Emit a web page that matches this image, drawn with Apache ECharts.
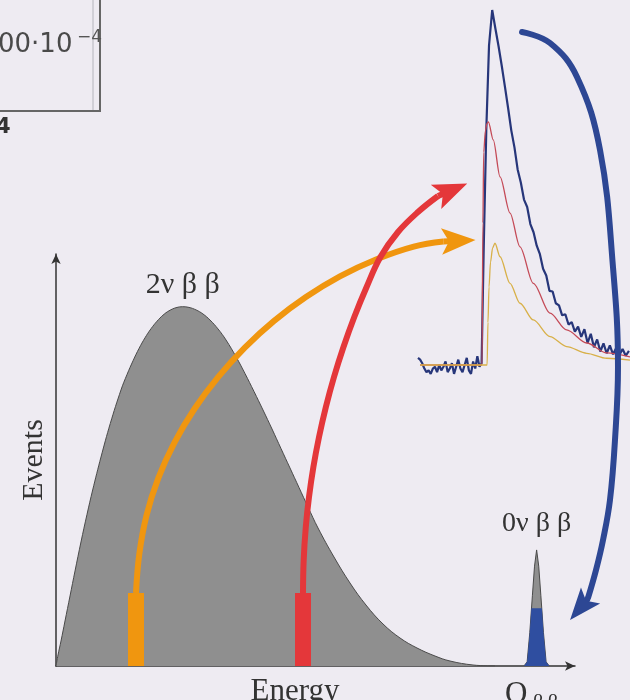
<!DOCTYPE html>
<html><head><meta charset="utf-8">
<script src="https://cdn.jsdelivr.net/npm/echarts@6/dist/echarts.min.js"></script>
<style>html,body{margin:0;padding:0;background:#eeebf2}#c{width:630px;height:700px}</style>
</head><body><div id="c"></div>
<script>
// ---- 2νββ continuum (energy in arbitrary units, events in arbitrary units)
const energy2nu = [0, 0.38, 0.95, 1.71, 2.66, 3.61, 4.74, 5.88, 6.96, 8.54, 10.3, 12.33, 13.47, 14.67, 15.75, 16.89, 18.03, 19.17, 20.3, 21.44, 22.77, 24.04, 25.24, 26.57, 27.89, 29.22, 30.74, 32.26, 34.16, 35.86, 37.57, 39.28, 40.99, 42.69, 44.4, 46.11, 47.82, 49.72, 52.75, 55.79, 58.82, 62.05, 65.28, 68.5, 71.92, 74.76, 79.13, 83.3];
const counts2nu = [0, 2.64, 6.01, 10.82, 16.83, 22.84, 29.81, 36.42, 42.31, 50.24, 58.29, 66.35, 70.05, 73.51, 76.32, 78.89, 81.08, 82.88, 84.33, 85.38, 86.13, 86.37, 86.2, 85.6, 84.62, 83.17, 81.03, 78.37, 74.35, 70.31, 65.99, 61.54, 56.97, 52.28, 47.6, 42.91, 38.22, 33.17, 26.2, 19.95, 14.66, 10.1, 6.73, 4.33, 2.4, 1.2, 0.24, 0];
// ---- 0νββ peak at Qββ
const energy0nu = [88.8, 89.4, 89.9, 90.4, 90.8, 91.2, 91.6, 92.0, 92.5, 93.0, 93.6];
const counts0nu = [0, 1.0, 8, 17, 24, 27.9, 24, 17, 8, 1.0, 0];
const energy0nuSel = [88.8, 89.4, 89.9, 90.2, 92.2, 92.5, 93.0, 93.6];
const counts0nuSel = [0, 1.0, 8, 13.9, 13.9, 8, 1.0, 0];
const qbb = 91.2;
// ---- selected energy windows (bars)
const windowEnergy = [15.18, 46.87];
const windowHeight = [17.55, 17.55];
// ---- arrows (same units as the spectrum)
const orangeArrowX = [15.18, 15.81, 17.17, 19.41, 22.5, 26.32, 30.8, 35.83, 41.38, 47.42, 53.87, 60.72, 67.89, 73.49];
const orangeArrowY = [17.55, 26.95, 36.18, 45.17, 53.75, 61.9, 69.5, 76.54, 82.96, 88.68, 93.65, 97.72, 100.82, 102.04];
const orangeHead = [[73.49, 102.04], [76.38, 102.21]];
const redArrowX = [46.87, 47.0, 47.4, 48.01, 48.84, 49.91, 51.21, 52.75, 54.55, 56.6, 58.94, 61.56, 64.9, 68.69, 72.49];
const redArrowY = [17.55, 25.48, 33.41, 40.63, 47.84, 55.05, 62.26, 69.47, 76.68, 83.89, 91.11, 98.32, 104.33, 109.13, 112.98];
const redHead = [[72.49, 112.98], [75.07, 114.38]];
const blueArrowX = [88.43, 93.74, 98.86, 103.23, 105.69, 106.64, 106.07, 105.12, 103.8, 102.47, 100.95];
const blueArrowY = [152.4, 149.76, 141.59, 124.04, 95.91, 71.88, 54.33, 39.9, 30.29, 23.08, 16.35];
const blueHead = [[100.95, 16.23], [99.49, 14.01]];
// ---- pulses (time units, normalized amplitude)
const pulseTBlue = [0,1,2,3,4,5,6,7,8,9,10,11,12,13,14,15,16,17,18,19,20,21,22,23,24,25,26,27,28,29,30,
  31.0, 32.2, 33.5, 35,
  36.5, 38, 39.5, 41, 42.5, 44, 45.5, 47, 48.5, 50, 51.5, 53, 54.5, 56, 57.5, 59, 60.5, 62, 63.5, 65, 66.5, 68, 69.5, 71, 72.5, 74, 75.5, 77, 78.5, 80, 81.5, 83, 84.5, 86, 87.5, 89, 90.5, 92, 93.5, 95, 96.5, 98, 99.5];
const pulseABlue = [0.02, 0.015, 0.005, -0.01, -0.02, -0.015, -0.025, -0.01, -0.005, -0.02, 0.0, -0.015, -0.005, 0.01, -0.02, -0.01, 0.005, -0.025, -0.005, 0.015, -0.01, -0.02, 0.0, 0.02, -0.015, -0.025, 0.01, -0.01, 0.025, -0.005, 0.005,
  0.33, 0.66, 0.9, 1.0,
  0.948, 0.898, 0.843, 0.784, 0.724, 0.661, 0.613, 0.551, 0.514, 0.466, 0.445, 0.397, 0.374, 0.336, 0.312, 0.271, 0.252, 0.209, 0.207, 0.174, 0.168, 0.140, 0.143, 0.114, 0.121, 0.094, 0.108, 0.079, 0.101, 0.062, 0.088, 0.05, 0.072, 0.038, 0.061, 0.033, 0.055, 0.03, 0.048, 0.028, 0.045, 0.026, 0.04];
const pulseTRed = [1, 30.2, 30.6, 31.0, 31.8, 32.5, 33.2, 35.5, 38.7, 43.4, 48.1, 54.4, 62.3, 70.1, 79.6, 89.0, 100];
const pulseARed = [0, 0, 0.4, 0.6, 0.66, 0.68, 0.685, 0.634, 0.53, 0.428, 0.333, 0.23, 0.146, 0.099, 0.062, 0.034, 0.023];
const pulseTYel = [1, 32.6, 33.0, 33.5, 34.2, 35.2, 36.3, 38.7, 43.4, 48.1, 54.4, 62.3, 70.1, 79.6, 89.0, 100];
const pulseAYel = [0, 0, 0.12, 0.22, 0.29, 0.33, 0.343, 0.305, 0.23, 0.174, 0.127, 0.08, 0.052, 0.033, 0.019, 0.014];

const zip = (a, b) => a.map((v, i) => [v, b[i]]);
const SERIF = '"Liberation Serif", "DejaVu Serif", serif';
const HEAD = 'path://M0,0M100,100M50,0L89,100L50,78L11,100Z';
const C_OR = '#f0960f', C_RED = '#e4373a', C_BLUE = '#2d4794';
// spectrum scale: 5.27 px per energy unit, 4.16 px per event unit
const XU = 5.27, YU = 4.16;

const chart = echarts.init(document.getElementById('c'), null, {renderer: 'canvas'});
chart.setOption({
  backgroundColor: '#eeebf2',
  animation: false,
  grid: [
    {left: 56, right: 55, top: 254, bottom: 34, outerBoundsMode: 'none', containLabel: false},
    {left: 418, right: 0, top: 10, bottom: 299.5, outerBoundsMode: 'none', containLabel: false},
    {left: 0, right: 0, top: 0, bottom: 0, outerBoundsMode: 'none', containLabel: false}
  ],
  xAxis: [
    {type: 'value', gridIndex: 0, min: 0, max: 519 / XU, name: 'Energy', nameLocation: 'middle', nameGap: 10,
     nameTextStyle: {fontFamily: SERIF, fontSize: 31, color: '#333', padding: [0, 41, 0, 0]},
     axisLine: {show: true, symbol: ['none', 'arrow'], symbolSize: [7, 10], lineStyle: {color: '#333', width: 1.5}},
     axisTick: {show: false}, axisLabel: {show: false}, splitLine: {show: false}},
    {type: 'value', gridIndex: 1, min: 0, max: 100, show: false},
    {type: 'value', gridIndex: 2, min: -56 / XU, max: 574 / XU, show: false}
  ],
  yAxis: [
    {type: 'value', gridIndex: 0, min: 0, max: 412 / YU, name: 'Events', nameLocation: 'middle', nameGap: 7, nameRotate: 90,
     nameTextStyle: {fontFamily: SERIF, fontSize: 30, color: '#333'},
     axisLine: {show: true, symbol: ['none', 'arrow'], symbolSize: [7, 10], lineStyle: {color: '#333', width: 1.5}},
     axisTick: {show: false}, axisLabel: {show: false}, splitLine: {show: false}},
    {type: 'value', gridIndex: 1, min: -0.1, max: 1, show: false},
    {type: 'value', gridIndex: 2, min: -34 / YU, max: 666 / YU, show: false}
  ],
  graphic: [
    {type: 'line', shape: {x1: 93, y1: 0, x2: 93, y2: 110}, style: {stroke: '#b4b4bc', lineWidth: 1}},
    {type: 'line', shape: {x1: 100, y1: 0, x2: 100, y2: 111}, style: {stroke: '#666', lineWidth: 2}},
    {type: 'line', shape: {x1: 0, y1: 111, x2: 101, y2: 111}, style: {stroke: '#666', lineWidth: 2}},
    {type: 'text', x: -2, y: 32, style: {text: '00·10', font: '26px "DejaVu Sans"', fill: '#4a4a4a'}},
    {type: 'text', x: 77, y: 29, style: {text: '−4', font: '17px "DejaVu Sans"', fill: '#555'}},
    {type: 'text', x: -4, y: 117, style: {text: '4', font: 'bold 21px "DejaVu Sans"', fill: '#333'}}
  ],
  series: [
    {type: 'line', name: '2nbb', xAxisIndex: 0, yAxisIndex: 0, data: zip(energy2nu, counts2nu), smooth: 0.4,
     symbol: 'none', z: 2, lineStyle: {color: '#4a4a4a', width: 1}, areaStyle: {color: '#8f8f8f', opacity: 1},
     markPoint: {symbol: 'circle', symbolSize: 1, itemStyle: {color: 'rgba(0,0,0,0)'}, silent: true,
       data: [{coord: [24.04, 86.37], label: {show: true, position: 'top', distance: 6, formatter: '2ν β β',
         fontFamily: SERIF, fontSize: 30, color: '#333'}}]}},
    {type: 'line', name: '0nbb', xAxisIndex: 0, yAxisIndex: 0, data: zip(energy0nu, counts0nu), symbol: 'none', z: 2,
     lineStyle: {color: '#4a4a4a', width: 1}, areaStyle: {color: '#8f8f8f', opacity: 1},
     markPoint: {symbol: 'circle', symbolSize: 1, itemStyle: {color: 'rgba(0,0,0,0)'}, silent: true,
       data: [
         {coord: [qbb, 27.9], label: {show: true, position: 'top', distance: 12, formatter: '0ν β β',
           fontFamily: SERIF, fontSize: 28, color: '#333'}},
         {coord: [qbb, 0], label: {show: true, position: 'bottom', distance: 13, offset: [-5, 0], formatter: '{q|Q}{s|\u2009β\u2009β}',
           rich: {q: {fontFamily: SERIF, fontSize: 31, color: '#333', verticalAlign: 'top', lineHeight: 34},
                  s: {fontFamily: SERIF, fontSize: 21, color: '#333', verticalAlign: 'top', lineHeight: 34, padding: [13, 0, 0, 1]}}}}
       ]}},
    {type: 'line', name: '0nbbSel', xAxisIndex: 0, yAxisIndex: 0, data: zip(energy0nuSel, counts0nuSel), symbol: 'none', z: 3,
     lineStyle: {width: 0}, areaStyle: {color: '#2f4ea0', opacity: 1}},
    {type: 'bar', xAxisIndex: 0, yAxisIndex: 0, barWidth: 16, z: 4,
     data: [{value: [windowEnergy[0], windowHeight[0]], itemStyle: {color: C_OR}},
            {value: [windowEnergy[1], windowHeight[1]], itemStyle: {color: C_RED}}]},
    // pulses
    {type: 'line', xAxisIndex: 1, yAxisIndex: 1, data: zip(pulseTBlue, pulseABlue), symbol: 'none', clip: false, z: 3,
     lineStyle: {color: '#27367a', width: 2.2}},
    {type: 'line', xAxisIndex: 1, yAxisIndex: 1, data: zip(pulseTRed, pulseARed), symbol: 'none', clip: false, z: 3,
     smooth: 0.3, smoothMonotone: 'x', lineStyle: {color: '#c44a57', width: 1.3}},
    {type: 'line', xAxisIndex: 1, yAxisIndex: 1, data: zip(pulseTYel, pulseAYel), symbol: 'none', clip: false, z: 3,
     smooth: 0.3, smoothMonotone: 'x', lineStyle: {color: '#d8b048', width: 1.3}},
    // arrows (overlay grid, same units as spectrum)
    {type: 'line', xAxisIndex: 2, yAxisIndex: 2, data: zip(orangeArrowX, orangeArrowY), symbol: 'none', z: 5,
     smooth: 0.4, lineStyle: {color: C_OR, width: 6}},
    {type: 'lines', coordinateSystem: 'cartesian2d', xAxisIndex: 2, yAxisIndex: 2, z: 5,
     symbol: ['none', HEAD], symbolSize: 34, lineStyle: {color: C_OR, width: 6, opacity: 1}, data: [{coords: orangeHead}]},
    {type: 'line', xAxisIndex: 2, yAxisIndex: 2, data: zip(redArrowX, redArrowY), symbol: 'none', z: 6,
     smooth: 0.4, lineStyle: {color: C_RED, width: 6}},
    {type: 'lines', coordinateSystem: 'cartesian2d', xAxisIndex: 2, yAxisIndex: 2, z: 6,
     symbol: ['none', HEAD], symbolSize: 34, lineStyle: {color: C_RED, width: 6, opacity: 1}, data: [{coords: redHead}]},
    {type: 'line', xAxisIndex: 2, yAxisIndex: 2, data: zip(blueArrowX, blueArrowY), symbol: 'none', z: 6,
     smooth: 0.4, lineStyle: {color: C_BLUE, width: 6, cap: 'round'}},
    {type: 'lines', coordinateSystem: 'cartesian2d', xAxisIndex: 2, yAxisIndex: 2, z: 6,
     symbol: ['none', HEAD], symbolSize: 32, lineStyle: {color: C_BLUE, width: 6, opacity: 1}, data: [{coords: blueHead}]}
  ]
});
</script></body></html>
